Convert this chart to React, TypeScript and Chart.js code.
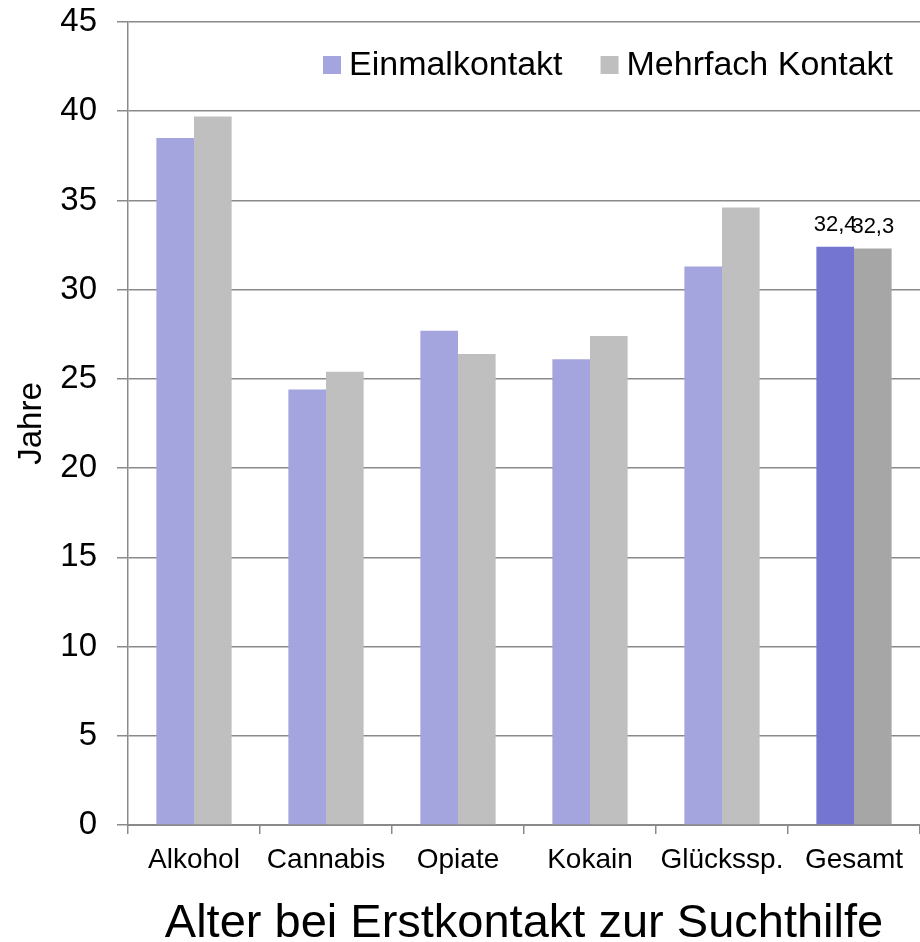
import React, { useEffect, useRef } from "react";
import { Chart, registerables } from "chart.js";

Chart.register(...registerables);

const categories = ["Alkohol", "Cannabis", "Opiate", "Kokain", "Glückssp.", "Gesamt"];
const einmalkontakt = [38.5, 24.4, 27.7, 26.1, 31.3, 32.4];
const mehrfachKontakt = [39.7, 25.4, 26.4, 27.4, 34.6, 32.3];
const seriesNames = ["Einmalkontakt", "Mehrfach Kontakt"];
const yTicksMax = 45;
const yTickStep = 5;
const labeledIndex = 5;
const chartTitle = "Alter bei Erstkontakt zur Suchthilfe";
const yTitle = "Jahre";

const FONT = "'Liberation Sans', Arial, sans-serif";
const E_COLOR = "#A4A4DF";
const E_DARK = "#7474D1";
const M_COLOR = "#BFBFBF";
const M_DARK = "#A6A6A6";
const GRID = "#8a8a8a";

const legendPlugin = {
  id: "customLegend",
  afterDraw(chart: any) {
    const ctx = chart.ctx;
    ctx.save();
    ctx.font = `34px ${FONT}`;
    ctx.textBaseline = "alphabetic";
    ctx.textAlign = "left";
    let x = 323;
    const colors = [E_COLOR, M_COLOR];
    seriesNames.forEach((name, i) => {
      ctx.fillStyle = colors[i];
      ctx.fillRect(x, 56, 18, 18);
      ctx.fillStyle = "#000";
      ctx.fillText(name, x + 26, 75);
      x += 26 + ctx.measureText(name).width + 38;
    });
    ctx.restore();
  },
};

const titlePlugin = {
  id: "bottomTitle",
  afterDraw(chart: any) {
    const ctx = chart.ctx;
    const area = chart.chartArea;
    ctx.save();
    ctx.font = `47px ${FONT}`;
    ctx.fillStyle = "#000";
    ctx.textAlign = "center";
    ctx.textBaseline = "alphabetic";
    ctx.fillText(chartTitle, (area.left + area.right) / 2, 937);
    ctx.restore();
  },
};

const valueLabelPlugin = {
  id: "valueLabels",
  afterDatasetsDraw(chart: any) {
    const ctx = chart.ctx;
    ctx.save();
    ctx.font = `22px ${FONT}`;
    ctx.fillStyle = "#000";
    ctx.textAlign = "center";
    ctx.textBaseline = "alphabetic";
    chart.data.datasets.forEach((ds: any, di: number) => {
      const meta = chart.getDatasetMeta(di);
      const bar = meta.data[labeledIndex];
      if (!bar) return;
      const v = ds.data[labeledIndex];
      ctx.fillText(String(v).replace(".", ","), bar.x, bar.y - 16);
    });
    ctx.restore();
  },
};

export default function App() {
  const ref = useRef<HTMLCanvasElement | null>(null);
  useEffect(() => {
    if (!ref.current) return;
    const chart = new Chart(ref.current, {
      type: "bar",
      data: {
        labels: categories,
        datasets: [
          {
            label: seriesNames[0],
            data: einmalkontakt,
            backgroundColor: einmalkontakt.map((_, i) => (i === labeledIndex ? E_DARK : E_COLOR)),
            barPercentage: 1,
            categoryPercentage: 0.57,
          },
          {
            label: seriesNames[1],
            data: mehrfachKontakt,
            backgroundColor: mehrfachKontakt.map((_, i) => (i === labeledIndex ? M_DARK : M_COLOR)),
            barPercentage: 1,
            categoryPercentage: 0.57,
          },
        ],
      },
      options: {
        responsive: false,
        animation: false,
        events: [],
        layout: { padding: { top: 22, right: 0, bottom: 57, left: 0 } },
        plugins: {
          legend: { display: false },
          tooltip: { enabled: false },
          title: { display: false },
        },
        scales: {
          x: {
            offset: true,
            grid: {
              display: true,
              offset: true,
              drawOnChartArea: false,
              drawTicks: true,
              tickLength: 9,
              color: GRID,
              lineWidth: 1.5,
            },
            border: { display: true, color: GRID, width: 2 },
            ticks: {
              color: "#000",
              font: { family: FONT, size: 28 },
              padding: 9,
              maxRotation: 0,
              autoSkip: false,
            },
            afterFit(scale: any) {
              scale.height = 60;
              scale.paddingLeft = 0;
              scale.paddingRight = 0;
            },
          },
          y: {
            min: 0,
            max: yTicksMax,
            ticks: {
              stepSize: yTickStep,
              color: "#000",
              font: { family: FONT, size: 33 },
              padding: 20,
            },
            grid: {
              color: GRID,
              lineWidth: 1.5,
              tickLength: 11,
              drawTicks: true,
            },
            border: { display: true, color: GRID, width: 1.5 },
            title: {
              display: true,
              text: yTitle,
              color: "#000",
              font: { family: FONT, size: 33 },
              padding: { top: 12, bottom: 0 },
            },
            afterFit(scale: any) {
              scale.width = 128;
              scale.paddingTop = 0;
              scale.paddingBottom = 0;
            },
          },
        },
      },
      plugins: [legendPlugin, titlePlugin, valueLabelPlugin],
    } as any);
    return () => chart.destroy();
  }, []);

  return (
    <div style={{ position: "fixed", left: 0, top: 0, width: 920, height: 942, background: "#fff" }}>
      <canvas ref={ref} width={920} height={942} style={{ width: 920, height: 942, display: "block" }} />
    </div>
  );
}
